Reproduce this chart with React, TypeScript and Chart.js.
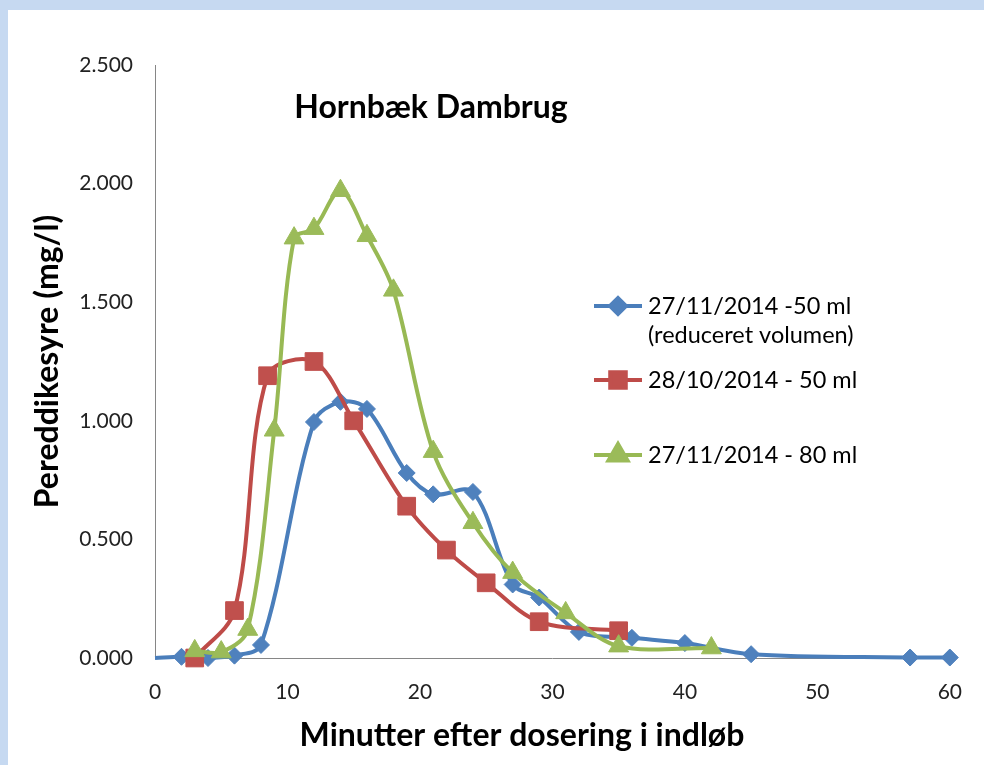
import React, { useEffect, useRef } from 'react';
import { Chart, registerables } from 'chart.js';
import { drawPoint } from 'chart.js/helpers';

Chart.register(...registerables);

const CHART_TITLE = 'Hornbæk Dambrug';
const X_TITLE = 'Minutter efter dosering i indløb';
const Y_TITLE = 'Pereddikesyre (mg/l)';

const blueLabel = ['27/11/2014 -50 ml', '(reduceret volumen)'];
const blueX = [0, 2, 4, 6, 8, 12, 14, 16, 19, 21, 24, 27, 29, 32, 36, 40, 45, 57, 60];
const blueY = [0, 0.005, 0, 0.01, 0.055, 0.995, 1.08, 1.05, 0.78, 0.69, 0.7, 0.31, 0.255, 0.11, 0.085, 0.063, 0.016, 0.002, 0.002];

const redLabel = ['28/10/2014 - 50 ml'];
const redX = [3, 6, 8.5, 12, 15, 19, 22, 25, 29, 35];
const redY = [0, 0.2, 1.19, 1.25, 1.0, 0.64, 0.455, 0.317, 0.153, 0.115];

const greenLabel = ['27/11/2014 - 80 ml'];
const greenX = [3, 5, 7, 9, 10.5, 12, 14, 16, 18, 21, 24, 27, 31, 35, 42];
const greenY = [0.03, 0.025, 0.12, 0.96, 1.77, 1.81, 1.97, 1.78, 1.55, 0.87, 0.57, 0.36, 0.19, 0.05, 0.042];

const xMin = 0, xMax = 60, xStep = 10;
const yMin = 0, yMax = 2.5, yStep = 0.5;

const FONT = 'Lato, "Open Sans", sans-serif';

const toPoints = (xs: number[], ys: number[]) => xs.map((x, i) => ({ x, y: ys[i] }));

const overlayPlugin = {
  id: 'overlay',
  afterDraw(chart: any) {
    const ctx = chart.ctx;
    const area = chart.chartArea;
    ctx.save();
    // chart title
    ctx.fillStyle = '#000';
    ctx.font = `bold 32px ${FONT}`;
    ctx.textAlign = 'center';
    ctx.textBaseline = 'alphabetic';
    ctx.fillText(CHART_TITLE, area.left + 276, area.top + 53);
    // x title
    ctx.font = `bold 32px ${FONT}`;
    ctx.fillText(X_TITLE, area.left + 367, area.bottom + 88);
    // legend
    const legendYs = [306, 380, 455];
    const lx0 = 594, lx1 = 642, tx = 648;
    chart.data.datasets.forEach((ds: any, i: number) => {
      const y = legendYs[i];
      ctx.strokeStyle = ds.borderColor;
      ctx.lineWidth = 4;
      ctx.beginPath();
      ctx.moveTo(lx0, y);
      ctx.lineTo(lx1, y);
      ctx.stroke();
      ctx.fillStyle = ds.pointBackgroundColor;
      ctx.strokeStyle = ds.pointBorderColor;
      drawPoint(ctx, { pointStyle: ds.pointStyle, rotation: 0, radius: ds.legendRadius, borderWidth: 1 }, (lx0 + lx1) / 2, y);
      ctx.fillStyle = '#000';
      ctx.font = `23.5px ${FONT}`;
      ctx.textAlign = 'left';
      ctx.textBaseline = 'middle';
      const lines: string[] = ds.legendLines;
      lines.forEach((t, j) => ctx.fillText(t, tx, y + j * 29));
    });
    ctx.restore();
  },
};

export default function App() {
  const ref = useRef<HTMLCanvasElement | null>(null);

  useEffect(() => {
    if (!ref.current) return;
    const chart = new Chart(ref.current, {
      type: 'scatter',
      data: {
        datasets: [
          {
            label: blueLabel.join(' '),
            legendLines: blueLabel,
            data: toPoints(blueX, blueY),
            showLine: true,
            borderColor: '#4a7ebb',
            borderWidth: 4,
            pointStyle: 'rectRot',
            pointRadius: blueX.map((x) => (x === 0 ? 0 : 8.5)),
            legendRadius: 8,
            pointBackgroundColor: '#4f81bd',
            pointBorderColor: '#4f81bd',
            pointBorderWidth: 1,
            tension: 0.33,
            clip: false,
            order: 3,
          } as any,
          {
            label: redLabel.join(' '),
            legendLines: redLabel,
            data: toPoints(redX, redY),
            showLine: true,
            borderColor: '#be4b48',
            borderWidth: 4,
            pointStyle: 'rect',
            pointRadius: 12.5,
            legendRadius: 11,
            pointBackgroundColor: '#c0504d',
            pointBorderColor: '#c0504d',
            pointBorderWidth: 1,
            tension: 0.33,
            clip: false,
            order: 2,
          } as any,
          {
            label: greenLabel.join(' '),
            legendLines: greenLabel,
            data: toPoints(greenX, greenY),
            showLine: true,
            borderColor: '#98b954',
            borderWidth: 4,
            pointStyle: 'triangle',
            pointRadius: 11.5,
            legendRadius: 11,
            pointBackgroundColor: '#9bbb59',
            pointBorderColor: '#9bbb59',
            pointBorderWidth: 1,
            tension: 0.33,
            clip: false,
            order: 1,
          } as any,
        ],
      },
      options: {
        responsive: false,
        animation: false,
        devicePixelRatio: 1,
        layout: { padding: { left: 0, top: 65, right: 33, bottom: 0 } },
        plugins: {
          legend: { display: false },
          tooltip: { enabled: false },
          title: { display: false },
        },
        scales: {
          x: {
            type: 'linear',
            min: xMin,
            max: xMax,
            grid: { display: false, drawTicks: false },
            border: { display: true, color: '#868686', width: 1 },
            ticks: {
              stepSize: xStep,
              padding: 22,
              color: '#222',
              font: { family: FONT, size: 21 },
              maxRotation: 0,
            },
            afterFit: (s: any) => {
              s.height = 107;
            },
          },
          y: {
            type: 'linear',
            min: yMin,
            max: yMax,
            grid: { display: false, drawTicks: false },
            border: { display: true, color: '#868686', width: 1 },
            ticks: {
              stepSize: yStep,
              padding: 22,
              color: '#222',
              font: { family: FONT, size: 21 },
              callback: (v: any) => Number(v).toFixed(3),
            },
            title: {
              display: true,
              text: Y_TITLE,
              color: '#000',
              font: { family: FONT, size: 32, weight: 'bold' },
              padding: { top: 28, bottom: 0 },
            },
            afterFit: (s: any) => {
              s.width = 155;
            },
          },
        },
      } as any,
      plugins: [overlayPlugin],
    });
    return () => chart.destroy();
  }, []);

  return (
    <div style={{ position: 'fixed', left: 0, top: 0, width: 984, height: 765, background: '#c6d9f1', overflow: 'hidden' }}>
      <div style={{ position: 'absolute', left: 8, top: 10, right: 0, bottom: 0, background: '#ffffff' }} />
      <canvas ref={ref} width={984} height={765} style={{ position: 'absolute', left: 0, top: 0, width: 984, height: 765 }} />
    </div>
  );
}
